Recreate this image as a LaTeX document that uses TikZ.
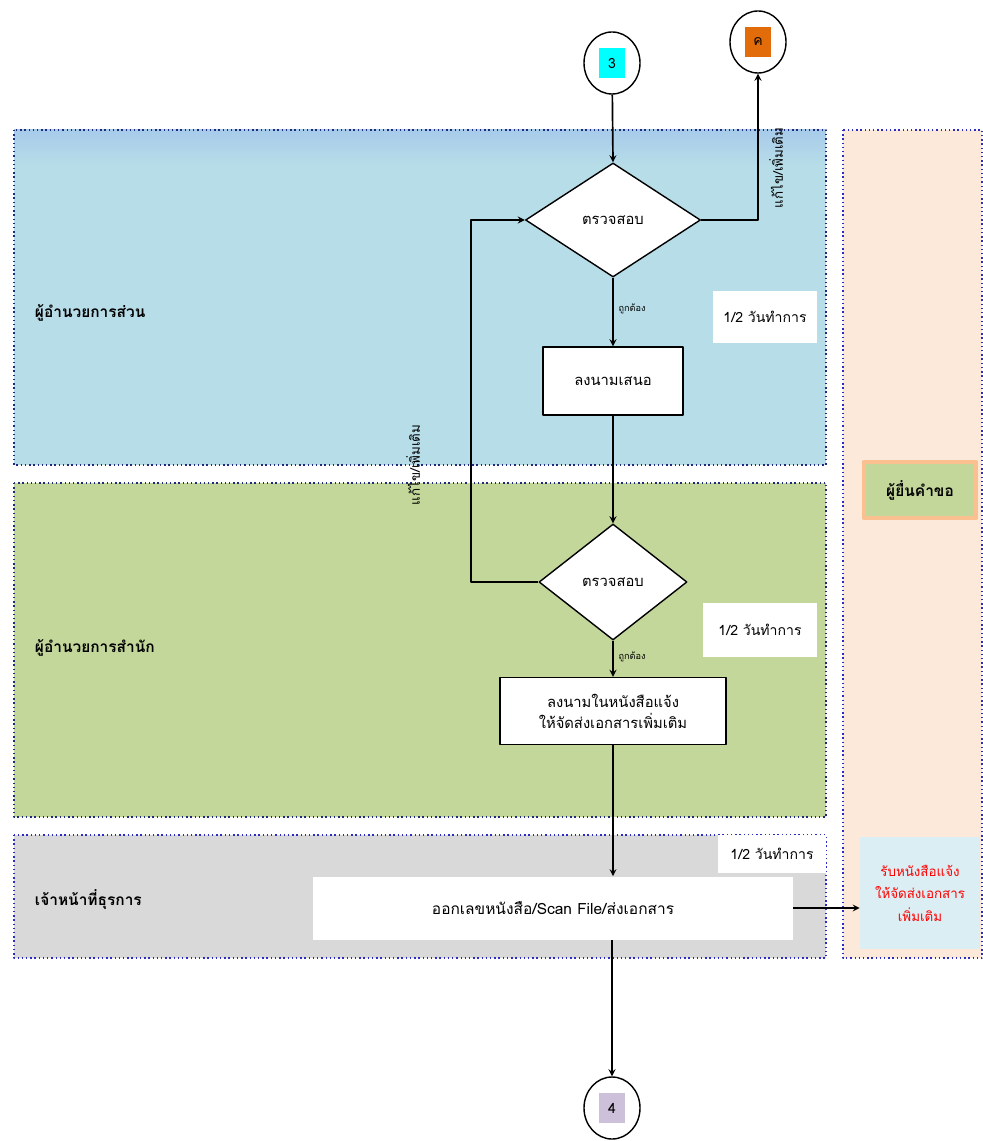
\documentclass[tikz,border=0pt]{standalone}
\usepackage{fontspec}
\setmainfont[Script=Thai]{Loma}
\usetikzlibrary{shapes.geometric}
\definecolor{laneblue}{HTML}{B7DDE8}
\definecolor{lanetop}{HTML}{A7CBEA}
\definecolor{lanegreen}{HTML}{C4D79B}
\definecolor{lanegrey}{HTML}{D9D9D9}
\definecolor{lanepeach}{HTML}{FDE9D9}
\definecolor{laneedge}{HTML}{1F2A7A}
\definecolor{laneedgeb}{HTML}{2B2BC0}
\definecolor{tagcyan}{HTML}{00FFFF}
\definecolor{tagorange}{HTML}{E26B0A}
\definecolor{taglilac}{HTML}{CCC0DA}
\definecolor{boxorange}{HTML}{FAC090}
\definecolor{notebox}{HTML}{DAEEF3}
\begin{document}
\begin{tikzpicture}[x=0.025cm, y=-0.025cm, line join=round, >=stealth, font=\fontsize{10}{12}\selectfont,
    lane/.style={draw=laneedge, dotted, line width=1pt},
    decide/.style={diamond, draw, fill=white, line width=1pt, inner sep=0pt, font=\fontsize{10.5}{12}\selectfont},
    task/.style={rectangle, draw, fill=white, line width=1pt, align=center, font=\fontsize{10.5}{15}\selectfont},
    daybox/.style={rectangle, fill=white, inner sep=0pt, font=\fontsize{10}{12}\selectfont},
    conn/.style={ellipse, draw, fill=white, line width=1pt, minimum width=1.4cm, minimum height=1.55cm},
    tag/.style={rectangle, inner sep=0pt, minimum width=0.63cm, minimum height=0.75cm, font=\fontsize{10}{12}\selectfont},
    flow/.style={->, line width=1.2pt},
    lanelabel/.style={anchor=west, font=\fontsize{11}{13}\selectfont\bfseries},
    fixlabel/.style={rotate=90, font=\fontsize{9.5}{11}\selectfont},
    oklabel/.style={font=\fontsize{6.5}{8}\selectfont, anchor=west}]
  \useasboundingbox (0,0) rectangle (982,1141);
  % lanes
  \fill[laneblue] (14,130) rectangle (826,465);
  \shade[top color=lanetop, bottom color=laneblue] (14,130) rectangle (826,165);
  \draw[lane] (14,130) rectangle (826,465);
  \draw[lane, fill=lanegreen] (14,483) rectangle (826,817);
  \draw[lane, draw=laneedgeb, fill=lanegrey] (14,835) rectangle (826,958);
  \draw[lane, draw=laneedgeb, fill=lanepeach] (843,130) rectangle (982,958);
  \node[lanelabel] (lsection) at (30,313) {ผู้อำนวยการส่วน};
  \node[lanelabel] (loffice) at (30,648) {ผู้อำนวยการสำนัก};
  \node[lanelabel] (lclerk) at (30,900) {เจ้าหน้าที่ธุรการ};
  \node[rectangle, fill=lanegreen, draw=boxorange, line width=3pt, minimum width=2.8cm, minimum height=1.4cm,
    font=\fontsize{11}{13}\selectfont\bfseries] (applicant) at (920,490) {ผู้ยื่นคำขอ};
  % connectors in and out
  \node[conn] (c3) at (612,63) {};
  \node[tag, fill=tagcyan] (t3) at (c3) {3};
  \node[conn] (cK) at (758,42) {};
  \node[tag, fill=tagorange] (tK) at (c3 -| cK) [yshift=0.525cm] {ค};
  \node[conn] (c4) at (612,1108) {};
  \node[tag, fill=taglilac] (t4) at (c4) {4};
  % steps
  \node[decide, minimum width=4.375cm, minimum height=2.85cm] (check1) at (613,220) {ตรวจสอบ};
  \node[task, minimum width=3.5cm, minimum height=1.7cm] (sign1) at (613,381) {ลงนามเสนอ};
  \node[decide, minimum width=3.7cm, minimum height=2.9cm] (check2) at (613,582) {ตรวจสอบ};
  \node[task, minimum width=5.65cm, minimum height=1.675cm] (sign2) at (613,711) {ลงนามในหนังสือแจ้ง\\ให้จัดส่งเอกสารเพิ่มเติม};
  \node[rectangle, fill=white, minimum width=12cm, minimum height=1.575cm, font=\fontsize{11}{13}\selectfont] (issue) at (553,908) {ออกเลขหนังสือ/Scan File/ส่งเอกสาร};
  \node[rectangle, fill=notebox, minimum width=3cm, minimum height=2.8cm, align=center, text=red,
    font=\fontsize{9.5}{16}\selectfont] (notify) at (920,893) {รับหนังสือแจ้ง\\ให้จัดส่งเอกสาร\\เพิ่มเติม};
  \node[daybox, minimum width=2.6cm, minimum height=1.275cm] (day1) at (765,317) {1/2 วันทำการ};
  \node[daybox, minimum width=2.85cm, minimum height=1.35cm] (day2) at (760,630) {1/2 วันทำการ};
  \node[daybox, minimum width=2.7cm, minimum height=0.95cm] (day3) at (772,854) {1/2 วันทำการ};
  % flow
  \coordinate (back) at (471,220);
  \draw[flow] (c3) -- (check1.north);
  \draw[flow] (check1.east) -| (cK.south);
  \node[fixlabel] (fix1) at (776,168) {แก้ไข/เพิ่มเติม};
  \draw[flow] (check1.south) -- (sign1.north) node[oklabel, pos=0.45] (ok1) {ถูกต้อง};
  \draw[flow] (sign1.south) -- (check2.north);
  \draw[flow] (check2.west) -| (back) -- (check1.west);
  \node[fixlabel] (fix2) at (413,465) {แก้ไข/เพิ่มเติม};
  \draw[flow] (check2.south) -- (sign2.north) node[oklabel, pos=0.45] (ok2) {ถูกต้อง};
  \draw[flow] (sign2.south) -- (sign2.south |- issue.north);
  \draw[flow] (issue.south -| c4) -- (c4.north);
  \draw[flow] (issue.east) -- (issue.east -| notify.west);
\end{tikzpicture}
\end{document}
